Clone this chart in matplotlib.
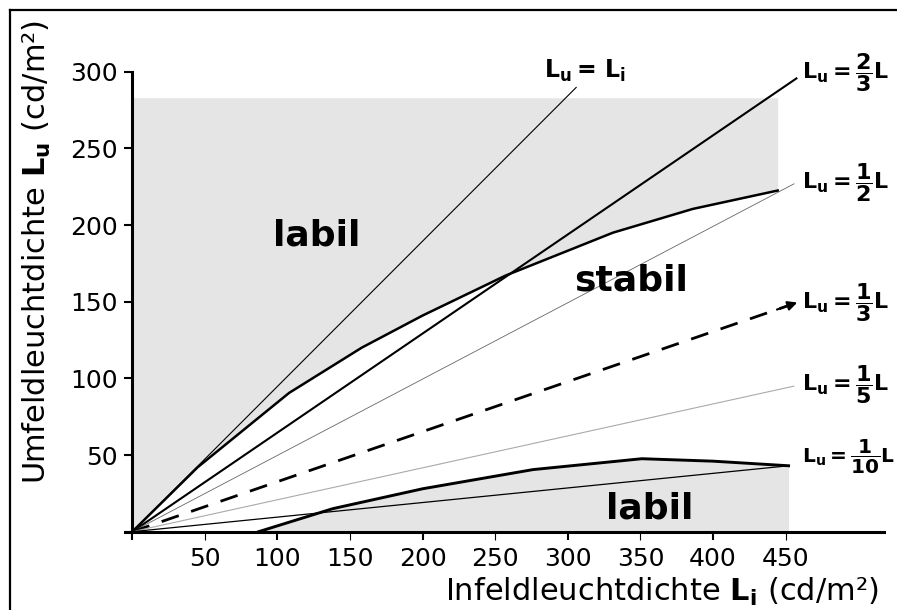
import matplotlib
matplotlib.use("Agg")
import matplotlib.pyplot as plt
from matplotlib.lines import Line2D

plt.rcParams['font.family'] = ['DejaVu Sans']
plt.rcParams['mathtext.fontset'] = 'dejavusans'
plt.rcParams['mathtext.default'] = 'bf'

# ---------------- data ----------------
x_ticks = [0, 50, 100, 150, 200, 250, 300, 350, 400, 450]
x_tick_labels = ["", "50", "100", "150", "200", "250", "300", "350", "400", "450"]
y_ticks = [0, 50, 100, 150, 200, 250, 300]
y_tick_labels = ["", "50", "100", "150", "200", "250", "300"]

# reference lines L_u = k * L_i (drawn from origin to end point)
line_labels = [r"$L_u{=}\,L_i$", r"$L_u{=}\dfrac{2}{3}L$", r"$L_u{=}\dfrac{1}{2}L$",
               r"$L_u{=}\dfrac{1}{3}L$", r"$L_u{=}\dfrac{1}{5}L$", r"$L_u{=}\dfrac{1}{10}L$"]
line_end_x = [306, 458, 456, 452, 456, 452]
line_end_y = [290, 296, 227, 147.5, 95, 43]

# upper stability boundary
upper_x = [0, 45, 108, 158, 200, 257, 331, 386, 444.5]
upper_y = [0, 42, 90.5, 120, 141, 167, 195, 210.5, 222.5]
# lower stability boundary
lower_x = [87, 138, 200, 276, 351, 400, 452]
lower_y = [0, 15, 28, 40.5, 47.6, 46, 43]
upper_region_top = 283

region_labels = ["labil", "stabil", "labil"]
region_x = [127, 343.5, 356.5]
region_y = [193, 164, 15]

# ---------------- figure ----------------
fig = plt.figure(figsize=(8.97, 6.10), dpi=100)
ax = fig.add_axes([125.0 / 897, (610 - 531.7) / 610, 759.4 / 897, 460 / 610])
ax.set_xlim(-5, 518)
ax.set_ylim(0, 300)

gray = "#e5e5e5"
ax.fill_between(upper_x, upper_y, upper_region_top, color=gray, lw=0, zorder=1)
ax.fill_between(lower_x, 0, lower_y, color=gray, lw=0, zorder=1)

styles = [
    dict(color="black", lw=0.8),
    dict(color="black", lw=1.5),
    dict(color="#666666", lw=0.6),
    dict(color="black", lw=2.0, dashes=(6.5, 4.7)),
    dict(color="#aaaaaa", lw=0.8),
    dict(color="black", lw=0.9),
]
for ex, ey, st in zip(line_end_x, line_end_y, styles):
    ax.plot([0, ex], [0, ey], zorder=3, solid_capstyle="butt", **st)

# arrow head on the 1/3 line
ai = 3
ex = line_end_x[ai] + 6
ey = line_end_y[ai] * ex / line_end_x[ai]
bx = ex - 14
by = ey * bx / ex
ax.annotate("", xy=(ex, ey), xytext=(bx, by),
            arrowprops=dict(arrowstyle="-|>", color="black", lw=1.5,
                            mutation_scale=14, shrinkA=0, shrinkB=0), zorder=4)

ax.plot(upper_x, upper_y, color="black", lw=1.8, zorder=4, solid_joinstyle="round")
ax.plot(lower_x, lower_y, color="black", lw=2.1, zorder=4, solid_joinstyle="round")

# line labels
ax.text(311.8, 300.2, line_labels[0], fontsize=17, ha="center", va="center")
label_y = [299.2, 227.8, 149.2, 95.8, 48.7]
label_size = [16, 16, 16, 16, 14.5]
for lab, yy, fs in zip(line_labels[1:], label_y, label_size):
    ax.text(461, yy, lab, fontsize=fs, ha="left", va="center", clip_on=False)

for lab, xx, yy in zip(region_labels, region_x, region_y):
    ax.text(xx, yy, lab, fontsize=26, fontweight="bold", ha="center", va="center", zorder=5)

# axes styling
for s in ["top", "right"]:
    ax.spines[s].set_visible(False)
ax.spines["left"].set_position(("data", 0))
ax.spines["left"].set_linewidth(2.2)
ax.spines["bottom"].set_linewidth(2.2)
ax.spines["left"].set_zorder(6)
ax.spines["bottom"].set_zorder(6)

ax.set_xticks(x_ticks)
ax.set_xticklabels(x_tick_labels)
ax.set_yticks(y_ticks)
ax.set_yticklabels(y_tick_labels)
ax.tick_params(axis="x", length=6, width=1.5, pad=5, labelsize=18)
ax.tick_params(axis="y", length=5.5, width=1.5, pad=5, labelsize=18)
for i, t in enumerate(ax.xaxis.get_major_ticks()):
    if x_ticks[i] % 100 != 0:
        t.tick1line.set_color("#aaaaaa")
        t.tick1line.set_markeredgewidth(0.8)

fig.text(661.5 / 897, 1 - 601 / 610, r"Infeldleuchtdichte $L_i$ (cd/m²)",
         fontsize=22, ha="center", va="baseline")
fig.text(46 / 897, 1 - 252 / 610, r"Umfeldleuchtdichte $L_u$ (cd/m²)",
         fontsize=22, ha="center", va="baseline", rotation=90, rotation_mode="anchor")

# figure frame (top and left visible)
fig.add_artist(Line2D([10 / 897, 10 / 897], [-0.05, 1 - 10 / 610], color="black", lw=1.6,
                      transform=fig.transFigure))
fig.add_artist(Line2D([10 / 897, 1.05], [1 - 10 / 610, 1 - 10 / 610], color="black", lw=1.6,
                      transform=fig.transFigure))

fig.savefig("out.png", dpi=100)
